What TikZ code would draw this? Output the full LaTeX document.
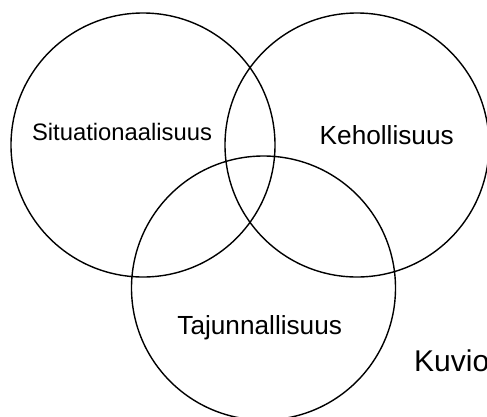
\documentclass[tikz,border=0pt]{standalone}
\usepackage{fontspec}
\setmainfont{Liberation Sans}
\usepackage{tikz}

\begin{document}
\begin{tikzpicture}[x=1pt, y=-1pt,
    set/.style={draw, circle, line width=1.4pt, minimum size=264pt, inner sep=0pt},
    lbl/.style={anchor=base, inner sep=0pt}
]
\useasboundingbox (0,0) rectangle (487,416);
\node[set] (sit) at (143,145) {};
\node[set] (keh) at (357,145) {};
\node[set] (taj) at (263.5,288) {};

\node[lbl, font=\fontsize{23.8}{28}\selectfont] (sitlbl) at (122,140) {Situationaalisuus};
\node[lbl, font=\fontsize{26.2}{30}\selectfont] (kehlbl) at (386.7,144) {Kehollisuus};
\node[lbl, font=\fontsize{26.2}{30}\selectfont] (tajlbl) at (259.7,334) {Tajunnallisuus};
\node[lbl, anchor=base west, font=\fontsize{30}{34}\selectfont] (kuvio) at (414,371) {Kuvio};
\end{tikzpicture}
\end{document}
